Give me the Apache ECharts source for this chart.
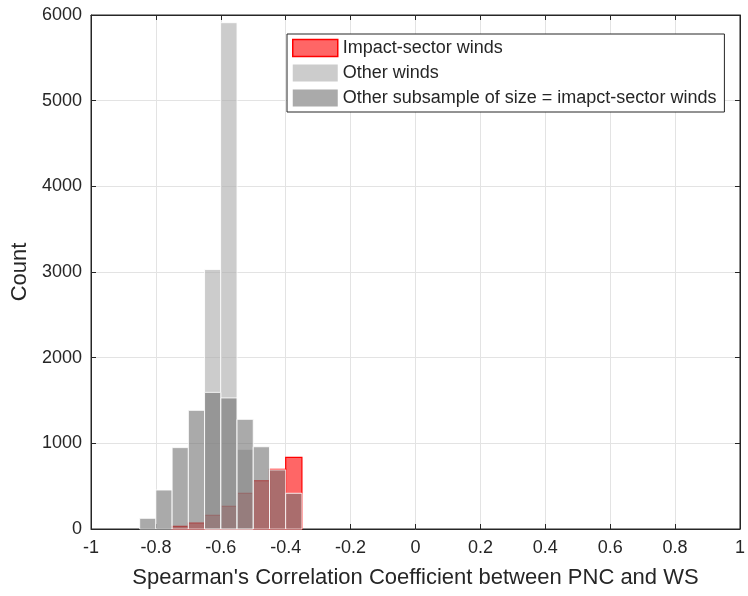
<!DOCTYPE html>
<html>
<head>
<meta charset="utf-8">
<script src="https://cdn.jsdelivr.net/npm/echarts@6/dist/echarts.min.js"></script>
<style>html,body{margin:0;padding:0;background:#fff}#c{width:748px;height:596px}</style>
</head>
<body>
<div id="c"></div>
<script>
// Histogram bin edges (each bin is 0.05 wide)
const binLeft  = [-0.85, -0.80, -0.75, -0.70, -0.65, -0.60, -0.55, -0.50, -0.45, -0.40];
const binRight = [-0.80, -0.75, -0.70, -0.65, -0.60, -0.55, -0.50, -0.45, -0.40, -0.35];
// Counts per bin
const impactCounts    = [0, 0, 30, 70, 160, 265, 417, 563, 697, 837];
const otherCounts     = [0, 0, 0, 0, 3030, 5910, 930, 0, 0, 0];
const subsampleCounts = [125, 455, 950, 1385, 1595, 1530, 1280, 960, 690, 417];
const seriesNames = ['Impact-sector winds', 'Other winds', 'Other subsample of size = imapct-sector winds'];

const FONT = "'Liberation Sans', Arial, Helvetica, sans-serif";
const TXT = '#262626';

function toData(counts){ return counts.map((c,i)=>[binLeft[i], binRight[i], c]); }

function makeRender(fill, stroke, lw){
  return function(params, api){
    const x0 = api.value(0), x1 = api.value(1), y = api.value(2);
    if (!y) return null;
    const p0 = api.coord([x0, y]);
    const p1 = api.coord([x1, 0]);
    return {
      type: 'rect',
      shape: {x: p0[0], y: p0[1], width: p1[0]-p0[0], height: p1[1]-p0[1]},
      style: {fill: fill, stroke: stroke, lineWidth: lw}
    };
  };
}

const chart = echarts.init(document.getElementById('c'), null, {renderer:'canvas'});
chart.setOption({
  animation: false,
  backgroundColor: '#fff',
  textStyle: {fontFamily: FONT},
  grid: {left: 91, right: 6, top: 15, bottom: 67, show: true, borderColor: TXT, borderWidth: 1, backgroundColor: 'transparent'},
  legend: {
    orient: 'vertical', left: 287, top: 34,
    padding: [4, 8, 4, 5], itemGap: 5, itemWidth: 45, itemHeight: 17,
    backgroundColor: '#fff', borderColor: TXT, borderWidth: 1,
    textStyle: {fontFamily: FONT, fontSize: 18, color: TXT, lineHeight: 20},
    selectedMode: false,
    data: [
      {name: seriesNames[0], icon: 'rect', itemStyle: {color: '#ff6666', borderColor: '#ff0000', borderWidth: 1.5}},
      {name: seriesNames[1], icon: 'rect', itemStyle: {color: '#cccccc', borderWidth: 0}},
      {name: seriesNames[2], icon: 'rect', itemStyle: {color: '#aaaaaa', borderWidth: 0}}
    ]
  },
  xAxis: [{
    type: 'value', min: -1, max: 1, interval: 0.2,
    name: "Spearman's Correlation Coefficient between PNC and WS",
    nameLocation: 'middle', nameGap: 38,
    nameTextStyle: {fontFamily: FONT, fontSize: 22, color: TXT},
    axisLine: {show: true, onZero: false, lineStyle: {color: TXT, width: 1}},
    axisTick: {show: true, inside: true, length: 5, lineStyle: {color: TXT}},
    axisLabel: {fontFamily: FONT, fontSize: 18, color: TXT, margin: 10,
      formatter: v => String(Math.round(v*10)/10)},
    splitLine: {show: true, lineStyle: {color: '#e3e3e3', width: 1}}
  },{
    type: 'value', position: 'top', min: -1, max: 1, interval: 0.2,
    axisLine: {show: true, onZero: false, lineStyle: {color: TXT}},
    axisTick: {show: true, inside: true, length: 5, lineStyle: {color: TXT}},
    axisLabel: {show: false}, splitLine: {show: false}
  }],
  yAxis: [{
    type: 'value', min: 0, max: 6000, interval: 1000,
    name: 'Count', nameLocation: 'middle', nameGap: 60,
    nameTextStyle: {fontFamily: FONT, fontSize: 22, color: TXT},
    axisLine: {show: true, onZero: false, lineStyle: {color: TXT, width: 1}},
    axisTick: {show: true, inside: true, length: 5, lineStyle: {color: TXT}},
    axisLabel: {fontFamily: FONT, fontSize: 18, color: TXT, margin: 9,
      formatter: v => String(v)},
    splitLine: {show: true, lineStyle: {color: '#e3e3e3', width: 1}}
  },{
    type: 'value', position: 'right', min: 0, max: 6000, interval: 1000,
    axisLine: {show: true, onZero: false, lineStyle: {color: TXT}},
    axisTick: {show: true, inside: true, length: 5, lineStyle: {color: TXT}},
    axisLabel: {show: false}, splitLine: {show: false}
  }],
  series: [
    {name: seriesNames[0], type: 'custom', xAxisIndex: 0, yAxisIndex: 0,
     itemStyle: {color: '#ff6666'},
     encode: {x: [0, 1], y: 2},
     renderItem: makeRender('rgba(255,0,0,0.6)', '#ff0000', 1.2), data: toData(impactCounts), z: 2},
    {name: seriesNames[1], type: 'custom', xAxisIndex: 0, yAxisIndex: 0,
     itemStyle: {color: '#cccccc'},
     encode: {x: [0, 1], y: 2},
     renderItem: makeRender('rgba(170,170,170,0.6)', 'rgba(255,255,255,0.85)', 1), data: toData(otherCounts), z: 3},
    {name: seriesNames[2], type: 'custom', xAxisIndex: 0, yAxisIndex: 0,
     itemStyle: {color: '#aaaaaa'},
     encode: {x: [0, 1], y: 2},
     renderItem: makeRender('rgba(113,113,113,0.6)', 'rgba(255,255,255,0.85)', 1), data: toData(subsampleCounts), z: 4}
  ]
});
</script>
</body>
</html>
